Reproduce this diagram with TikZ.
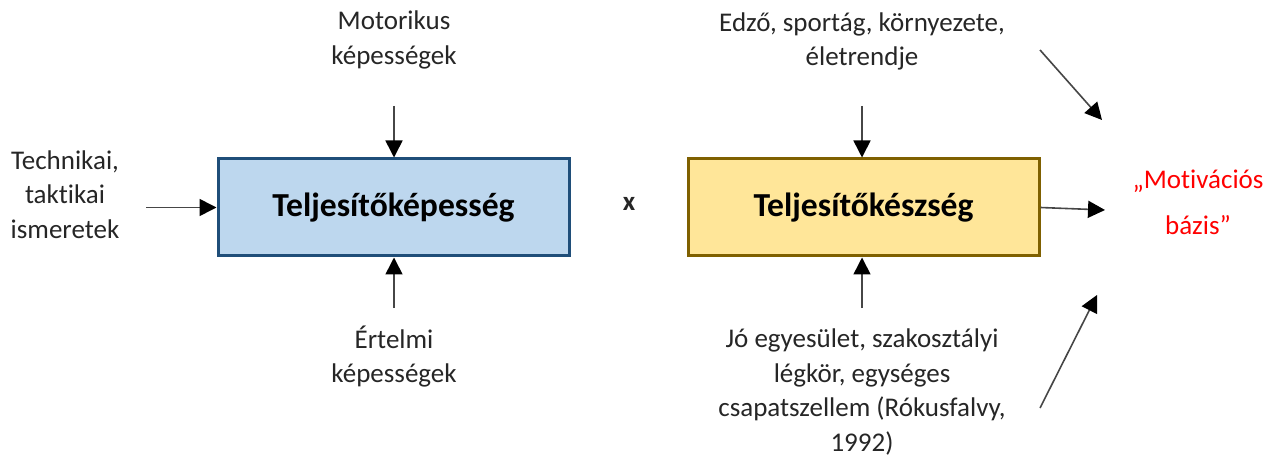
\documentclass[tikz,border=0pt]{standalone}
\usepackage{fontspec}
\setmainfont[Ligatures=NoCommon]{Carlito}
\usetikzlibrary{arrows.meta}

\definecolor{txt}{RGB}{38,38,38}
\definecolor{bluefill}{RGB}{189,215,238}
\definecolor{blueedge}{RGB}{31,78,121}
\definecolor{goldfill}{RGB}{255,230,153}
\definecolor{goldedge}{RGB}{127,96,0}
\definecolor{linegray}{RGB}{70,70,70}

\tikzset{
  label text/.style={text=txt, align=center, inner sep=0pt,
    font=\fontsize{13.5}{17.2}\selectfont},
  mainbox/.style={draw, line width=1.5pt, minimum width=175.5pt,
    minimum height=48.5pt, inner sep=0pt, text=black,
    font=\fontsize{16.8}{20}\selectfont\bfseries},
  arr/.style={draw=linegray, line width=0.8pt,
    -{Triangle[length=8.5pt,width=8.5pt,color=black,fill=black]}},
}

\begin{document}
\begin{tikzpicture}[x=0.5pt, y=-0.5pt]
  \useasboundingbox (0,0) rectangle (1277,459);

  % the two central boxes
  \node[mainbox, fill=bluefill, draw=blueedge] (kepesseg) at (393.5,207.5) {Teljesítőképesség};
  \node[mainbox, fill=goldfill, draw=goldedge] (keszseg) at (863.5,207.5) {Teljesítőkészség};
  \node[text=txt, font=\fontsize{13.5}{16}\selectfont\bfseries] (times) at (629,204) {x};

  % surrounding factors
  \node[label text] (technikai) at (65,194.5) {Technikai,\\taktikai\\ismeretek};
  \node[label text] (motorikus) at (394,40) {Motorikus\\képességek};
  \node[label text] (ertelmi) at (394,356.5) {Értelmi\\képességek};
  \node[label text] (edzo) at (862,41.5) {Edző, sportág, környezete,\\életrendje};
  \node[label text] (egyesulet) at (862,392) {Jó egyesület, szakosztályi\\légkör, egységes\\csapatszellem (Rókusfalvy,\\1992)};
  \node[label text, text=red, font=\fontsize{13.5}{23}\selectfont] (motivacio) at (1198,202) {„Motivációs\\bázis”};

  % arrow tails and free heads
  \coordinate (techTail) at (146,207.5);
  \coordinate (motorTail) at (394,106);
  \coordinate (ertelmiTail) at (394,308);
  \coordinate (edzoTail) at (862,106);
  \coordinate (egyesTail) at (862,308);
  \coordinate (rightHead) at (1105,210);
  \coordinate (diagTopTail) at (1040,50);
  \coordinate (diagTopHead) at (1102,120);
  \coordinate (diagBotTail) at (1040,408);
  \coordinate (diagBotHead) at (1097,295);

  % connectors
  \draw[arr] (techTail) -- (techTail -| kepesseg.west);
  \draw[arr] (motorTail) -- (motorTail |- kepesseg.north);
  \draw[arr] (ertelmiTail) -- (ertelmiTail |- kepesseg.south);
  \draw[arr] (edzoTail) -- (edzoTail |- keszseg.north);
  \draw[arr] (egyesTail) -- (egyesTail |- keszseg.south);
  \draw[arr] (keszseg.east) -- (rightHead);
  \draw[arr] (diagTopTail) -- (diagTopHead);
  \draw[arr] (diagBotTail) -- (diagBotHead);
\end{tikzpicture}
\end{document}
